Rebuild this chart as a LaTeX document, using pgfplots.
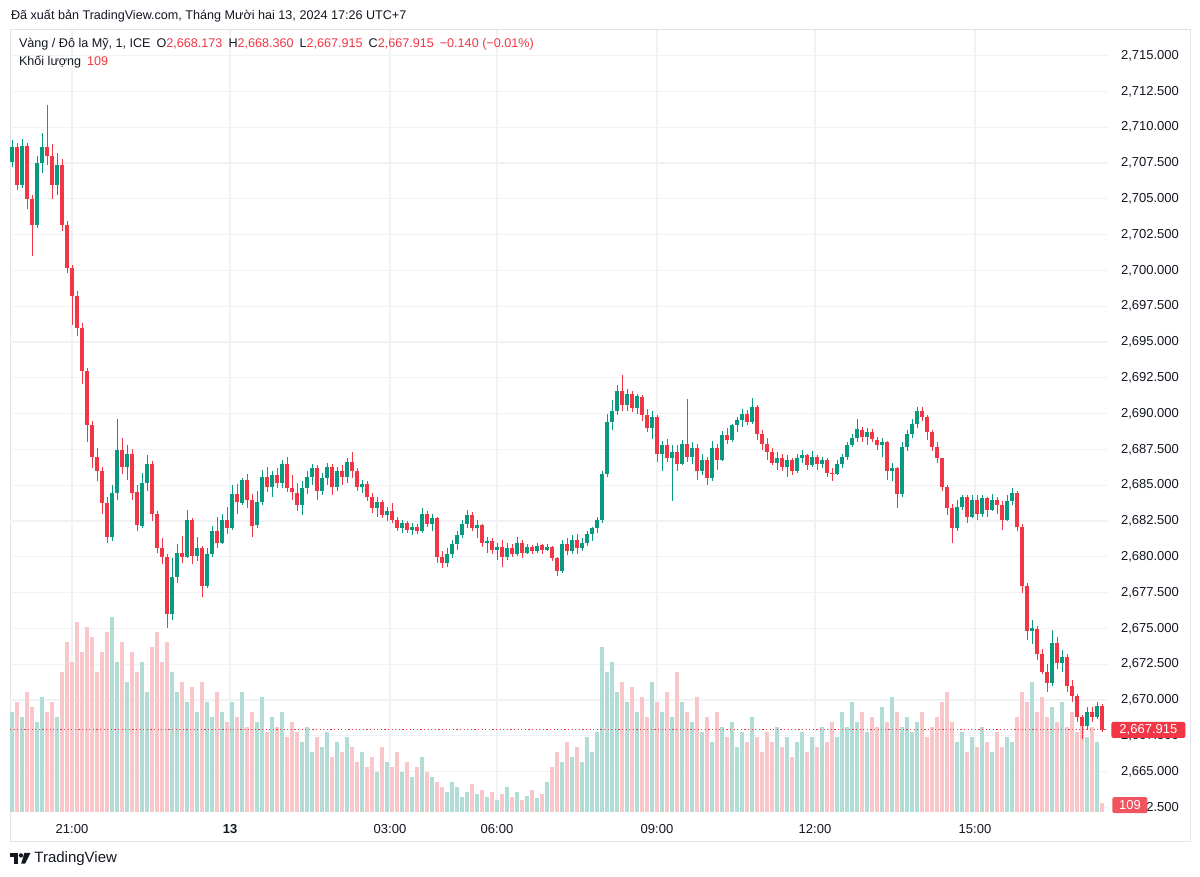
\documentclass[border=0pt]{standalone}
\usepackage{pgfplots}
\pgfplotsset{compat=1.18}
\usepackage{pgfplotstable}
\usepackage{fontspec}
\setmainfont{Liberation Sans}
\definecolor{tvgreen}{HTML}{089981}
\definecolor{tvred}{HTML}{F23645}
\definecolor{volgreen}{HTML}{B2DDD6}
\definecolor{volred}{HTML}{F9C7CA}
\definecolor{gridc}{HTML}{F0F2F6}
\definecolor{framec}{HTML}{E0E3EB}
\definecolor{txt}{HTML}{131722}
\definecolor{vollab}{HTML}{F0545F}
\pgfplotstableread{
x o h l c v
12 2707.6 2709.1 2707.2 2708.6 1200
17 2708.6 2708.9 2705.6 2706.0 1320
22 2706.0 2709.2 2705.8 2708.7 1140
27 2708.7 2708.9 2704.3 2705.0 1440
32 2705.0 2705.3 2701.0 2703.2 1260
37 2703.2 2708.0 2703.0 2707.5 1080
42 2707.5 2709.6 2706.8 2708.6 1380
47 2708.6 2711.6 2707.4 2708.0 1200
52 2708.0 2708.8 2705.0 2706.0 1320
57 2706.0 2708.2 2705.3 2707.4 1140
62 2707.4 2707.8 2702.8 2703.2 1680
67 2703.2 2703.5 2699.8 2700.2 2040
72 2700.2 2700.4 2696.2 2698.2 1800
77 2698.2 2698.6 2695.4 2696.0 2280
82 2696.0 2696.3 2692.1 2693.0 1920
87 2693.0 2693.2 2688.0 2689.2 2220
92 2689.2 2689.5 2686.2 2687.0 2100
97 2687.0 2687.6 2685.3 2686.0 1680
102 2686.0 2686.3 2683.0 2683.8 1920
107 2683.8 2684.2 2681.0 2681.4 2160
112 2681.4 2685.0 2681.1 2684.5 2340
117 2684.5 2689.6 2684.0 2687.5 1800
122 2687.5 2688.3 2685.8 2686.3 2040
127 2686.3 2687.8 2685.4 2687.2 1560
132 2687.2 2687.5 2684.0 2684.5 1920
137 2684.5 2685.0 2681.8 2682.2 1680
142 2682.2 2685.9 2682.0 2685.2 1800
147 2685.2 2687.1 2684.6 2686.5 1440
152 2686.5 2686.7 2682.5 2683.0 1980
157 2683.0 2683.2 2680.3 2680.6 2160
162 2680.6 2681.3 2679.5 2680.0 1800
167 2680.0 2680.2 2675.0 2676.0 2040
172 2676.0 2679.9 2675.6 2678.6 1680
177 2678.6 2680.9 2678.2 2680.3 1440
182 2680.3 2681.5 2679.6 2680.0 1560
187 2680.0 2683.3 2679.9 2682.6 1320
192 2682.6 2682.7 2679.5 2680.1 1500
197 2680.1 2681.4 2679.7 2680.6 1200
202 2680.6 2680.8 2677.2 2678.0 1560
207 2678.0 2680.6 2677.8 2680.2 1320
212 2680.2 2682.2 2680.0 2681.8 1140
217 2681.8 2682.8 2680.6 2681.0 1440
222 2681.0 2683.0 2680.9 2682.6 1200
227 2682.6 2683.5 2681.6 2682.0 1080
232 2682.0 2685.0 2681.9 2684.4 1320
237 2684.4 2685.1 2683.0 2683.8 1140
242 2683.8 2685.5 2683.6 2685.4 1440
247 2685.4 2685.8 2683.4 2684.0 1020
252 2684.0 2684.4 2681.4 2682.2 1200
257 2682.2 2684.6 2682.0 2683.8 1080
262 2683.8 2686.1 2683.6 2685.6 1380
267 2685.6 2686.3 2684.5 2684.9 960
272 2684.9 2686.0 2684.2 2685.7 1140
277 2685.7 2686.2 2684.8 2685.2 1020
282 2685.2 2686.8 2684.8 2686.5 1200
287 2686.5 2687.0 2684.5 2684.8 900
292 2684.8 2685.7 2684.0 2684.5 1080
297 2684.5 2685.2 2683.2 2683.6 960
302 2683.6 2685.3 2682.9 2684.8 840
307 2684.8 2686.0 2684.4 2685.6 1020
312 2685.6 2686.5 2685.0 2686.2 720
317 2686.2 2686.4 2684.0 2684.6 900
322 2684.6 2685.9 2684.3 2685.5 780
327 2685.5 2686.6 2685.0 2686.3 960
332 2686.3 2686.5 2684.3 2684.9 660
337 2684.9 2686.3 2684.6 2686.0 840
342 2686.0 2686.4 2685.0 2685.6 720
347 2685.6 2686.9 2685.2 2686.6 900
352 2686.6 2687.3 2685.5 2686.0 780
357 2686.0 2686.2 2684.6 2684.9 600
362 2684.9 2685.4 2684.5 2685.1 720
367 2685.1 2685.3 2683.9 2684.2 540
372 2684.2 2684.5 2683.1 2683.4 660
377 2683.4 2684.2 2682.8 2683.8 480
382 2683.8 2684.0 2682.7 2682.9 780
387 2682.9 2683.5 2682.5 2683.2 600
392 2683.2 2683.8 2682.4 2682.6 540
397 2682.6 2682.8 2681.8 2682.0 720
402 2682.0 2682.6 2681.7 2682.4 480
407 2682.4 2682.5 2681.7 2681.9 600
412 2681.9 2682.4 2681.5 2682.1 420
417 2682.1 2682.3 2681.6 2681.8 540
422 2681.8 2683.4 2681.7 2683.0 660
427 2683.0 2683.2 2682.1 2682.3 480
432 2682.3 2683.0 2681.8 2682.7 420
437 2682.7 2682.8 2679.6 2680.0 360
442 2680.0 2680.4 2679.2 2679.6 300
447 2679.6 2680.6 2679.3 2680.2 240
452 2680.2 2681.2 2679.9 2680.9 360
457 2680.9 2681.8 2680.5 2681.5 300
462 2681.5 2682.6 2681.3 2682.3 180
467 2682.3 2683.3 2682.0 2682.9 240
472 2682.9 2683.1 2681.8 2682.0 336
477 2682.0 2682.6 2681.3 2682.2 216
482 2682.2 2682.3 2680.7 2681.0 264
487 2681.0 2681.4 2680.3 2681.1 180
492 2681.1 2681.3 2680.2 2680.5 240
497 2680.5 2681.0 2679.8 2680.7 144
502 2680.7 2681.2 2679.3 2680.0 216
507 2680.0 2681.0 2679.8 2680.6 300
512 2680.6 2680.9 2680.0 2680.2 180
517 2680.2 2681.4 2680.1 2681.0 240
522 2681.0 2681.2 2679.9 2680.3 144
527 2680.3 2680.9 2680.2 2680.7 192
532 2680.7 2680.8 2680.2 2680.4 264
537 2680.4 2681.0 2680.3 2680.8 168
542 2680.8 2680.9 2680.2 2680.5 216
547 2680.5 2680.9 2680.4 2680.7 360
552 2680.7 2680.8 2679.7 2679.9 540
557 2679.9 2680.0 2678.7 2679.0 720
562 2679.0 2681.2 2678.9 2680.9 600
567 2680.9 2681.3 2680.1 2680.4 840
572 2680.4 2681.5 2680.2 2681.2 660
577 2681.2 2681.6 2680.2 2680.6 780
582 2680.6 2681.3 2680.4 2681.0 600
587 2681.0 2681.8 2680.8 2681.6 900
592 2681.6 2682.1 2681.1 2682.0 720
597 2682.0 2682.8 2681.7 2682.6 960
602 2682.6 2686.0 2682.4 2685.8 1980
607 2685.8 2690.0 2685.6 2689.4 1680
612 2689.4 2691.0 2688.9 2690.2 1800
617 2690.2 2692.0 2689.9 2691.6 1440
622 2691.6 2692.7 2690.2 2690.6 1560
627 2690.6 2691.7 2690.2 2691.4 1320
632 2691.4 2691.6 2690.1 2690.4 1500
637 2690.4 2691.4 2690.0 2691.2 1200
642 2691.2 2691.3 2689.5 2689.9 1380
647 2689.9 2690.3 2688.7 2689.0 1140
652 2689.0 2690.2 2688.2 2689.8 1560
657 2689.8 2689.9 2686.6 2687.2 1320
662 2687.2 2688.1 2686.0 2687.8 1200
667 2687.8 2688.2 2686.6 2686.9 1440
672 2686.9 2687.8 2683.9 2687.3 1140
677 2687.3 2687.8 2686.0 2686.5 1680
682 2686.5 2688.2 2686.4 2687.9 1320
687 2687.9 2691.0 2686.6 2687.0 1200
692 2687.0 2688.0 2686.5 2687.6 1080
697 2687.6 2687.9 2685.4 2686.0 1380
702 2686.0 2687.2 2685.7 2686.8 960
707 2686.8 2687.0 2685.0 2685.5 1140
712 2685.5 2688.1 2685.3 2687.6 840
717 2687.6 2687.9 2686.1 2686.8 1200
722 2686.8 2688.8 2686.7 2688.5 1020
727 2688.5 2689.0 2687.9 2688.2 900
732 2688.2 2689.3 2688.0 2689.2 1080
737 2689.2 2689.8 2688.7 2689.6 780
742 2689.6 2690.3 2689.1 2690.0 960
747 2690.0 2690.3 2689.2 2689.4 840
752 2689.4 2691.1 2689.3 2690.5 1140
757 2690.5 2690.6 2688.2 2688.6 900
762 2688.6 2688.9 2687.5 2687.9 720
767 2687.9 2688.3 2686.8 2687.3 960
772 2687.3 2687.6 2686.4 2686.6 840
777 2686.6 2687.3 2686.1 2686.9 1020
782 2686.9 2687.2 2686.0 2686.3 780
787 2686.3 2687.1 2685.6 2686.8 900
792 2686.8 2686.9 2685.7 2686.0 660
797 2686.0 2687.2 2685.9 2686.9 840
802 2686.9 2687.5 2686.6 2687.1 960
807 2687.1 2687.2 2686.1 2686.4 720
812 2686.4 2687.4 2686.3 2687.0 900
817 2687.0 2687.1 2686.1 2686.5 780
822 2686.5 2687.0 2686.2 2686.8 1020
827 2686.8 2686.9 2685.6 2685.9 840
832 2685.9 2686.2 2685.3 2685.8 1080
837 2685.8 2686.8 2685.7 2686.5 900
842 2686.5 2687.2 2686.2 2687.0 1200
847 2687.0 2688.0 2686.8 2687.8 1020
852 2687.8 2688.6 2687.7 2688.3 1320
857 2688.3 2689.6 2688.0 2688.9 1080
862 2688.9 2689.1 2688.0 2688.4 1200
867 2688.4 2689.0 2687.8 2688.7 960
872 2688.7 2688.9 2688.0 2688.2 1140
877 2688.2 2688.4 2687.5 2687.8 1020
882 2687.8 2688.3 2687.0 2688.0 1260
887 2688.0 2688.1 2685.4 2686.0 1080
892 2686.0 2686.6 2685.3 2686.2 1380
897 2686.2 2686.3 2683.4 2684.4 1200
902 2684.4 2688.0 2684.2 2687.7 1020
907 2687.7 2688.9 2687.4 2688.6 1140
912 2688.6 2689.6 2688.3 2689.3 960
917 2689.3 2690.5 2689.0 2690.2 1080
922 2690.2 2690.5 2689.5 2689.8 1200
927 2689.8 2689.9 2688.2 2688.7 900
932 2688.7 2688.9 2687.4 2687.7 1020
937 2687.7 2688.0 2686.6 2686.9 1140
942 2686.9 2686.9 2684.6 2684.9 1320
947 2684.9 2685.0 2682.9 2683.4 1440
952 2683.4 2683.7 2681.0 2682.0 1080
957 2682.0 2684.0 2681.8 2683.5 840
962 2683.5 2684.3 2683.3 2684.2 960
967 2684.2 2684.3 2682.4 2682.8 720
972 2682.8 2684.3 2682.7 2684.0 900
977 2684.0 2684.3 2682.6 2683.0 780
982 2683.0 2684.3 2682.8 2684.1 1020
987 2684.1 2684.2 2682.8 2683.3 840
992 2683.3 2684.4 2683.2 2684.0 720
997 2684.0 2684.2 2683.0 2683.6 960
1002 2683.6 2683.9 2681.9 2682.6 780
1007 2682.6 2684.3 2682.5 2683.9 900
1012 2683.9 2684.8 2683.6 2684.5 840
1017 2684.5 2684.6 2681.8 2682.1 1140
1022 2682.1 2682.3 2677.5 2678.0 1440
1027 2678.0 2678.2 2674.2 2674.8 1320
1032 2674.8 2675.6 2673.9 2675.0 1560
1037 2675.0 2675.2 2672.8 2673.2 1200
1042 2673.2 2673.6 2671.8 2672.0 1380
1047 2672.0 2672.5 2670.6 2671.2 1140
1052 2671.2 2674.9 2671.0 2674.0 1260
1057 2674.0 2674.4 2672.2 2672.6 1080
1062 2672.6 2673.5 2672.0 2673.0 1320
1067 2673.0 2673.2 2670.6 2671.0 1020
1072 2671.0 2671.4 2669.9 2670.3 1200
1077 2670.3 2670.4 2668.5 2668.8 960
1082 2668.8 2669.0 2667.3 2668.2 1140
1087 2668.2 2669.5 2668.0 2669.2 900
1092 2669.2 2669.5 2668.5 2668.8 1020
1097 2668.8 2669.9 2668.7 2669.6 840
1102 2669.6 2669.7 2667.8 2667.9 109
}\candles
% derived columns (2600 = off-scale placeholder for the other colour)
\pgfplotstablecreatecol[create col/expr={\thisrow{c}>=\thisrow{o} ? (\thisrow{h}+\thisrow{l})/2 : 2600}]{gw}\candles
\pgfplotstablecreatecol[create col/expr={\thisrow{c}<\thisrow{o} ? (\thisrow{h}+\thisrow{l})/2 : 2600}]{rw}\candles
\pgfplotstablecreatecol[create col/expr={(\thisrow{h}-\thisrow{l})/2}]{we}\candles
\pgfplotstablecreatecol[create col/expr={\thisrow{c}>=\thisrow{o} ? (\thisrow{o}+\thisrow{c})/2 : 2600}]{gb}\candles
\pgfplotstablecreatecol[create col/expr={\thisrow{c}<\thisrow{o} ? (\thisrow{o}+\thisrow{c})/2 : 2600}]{rb}\candles
\pgfplotstablecreatecol[create col/expr={max(abs(\thisrow{c}-\thisrow{o})/2,0.04)}]{be}\candles
\pgfplotstablecreatecol[create col/expr={\thisrow{c}>=\thisrow{o} ? 2662.186+\thisrow{v}/343.68 : 2600}]{gv}\candles
\pgfplotstablecreatecol[create col/expr={\thisrow{c}<\thisrow{o} ? 2662.186+\thisrow{v}/343.68 : 2600}]{rv}\candles
\pgfplotstablecreatecol[create col/expr={\thisrow{v}/343.68}]{ve}\candles
\pgfplotsset{
  ebar/.style 2 args={forget plot, draw=none, mark=none, mark size=0pt,
    error bars/y dir=both, error bars/y explicit, error bars/error mark=none,
    error bars/error bar style={line width=#1, draw=#2}},
}
\begin{document}
\begin{tikzpicture}
\path[use as bounding box, fill=white] (0,0) rectangle (600pt,438.5pt);
\draw[framec, line width=0.5pt] (5pt,17.5pt) rectangle (595pt,423.5pt);
\begin{axis}[
  at={(5pt,32.5pt)}, anchor=south west,
  scale only axis, width=549pt, height=391pt,
  xmin=10, xmax=1108, ymin=2662.186, ymax=2716.795,
  axis line style={draw=none},
  clip mode=individual,
  xtick={72,230,390,497,657,815,975},
  xticklabels={21:00,\textbf{13},03:00,06:00,09:00,12:00,15:00},
  ytick={2662.5,2665,2667.5,2670,2672.5,2675,2677.5,2680,2682.5,2685,2687.5,2690,2692.5,2695,2697.5,2700,2702.5,2705,2707.5,2710,2712.5,2715},
  yticklabel pos=right,
  grid=major, major grid style={gridc, line width=0.6pt},
  major tick length=0pt,
  tick label style={font=\fontsize{6.5}{8}\selectfont, text=txt},
  yticklabel style={anchor=west, xshift=3.0pt,
    /pgf/number format/fixed, /pgf/number format/fixed zerofill,
    /pgf/number format/precision=3, /pgf/number format/1000 sep={,},
    /pgf/number format/assume math mode=true},
  xticklabel style={anchor=center, yshift=-8.5pt},
]
% volume
\addplot[ebar={2.4pt}{volgreen}] table[x=x, y=gv, y error=ve]{\candles};
\addplot[ebar={2.4pt}{volred}] table[x=x, y=rv, y error=ve]{\candles};
% wicks
\addplot[ebar={0.5pt}{tvgreen}] table[x=x, y=gw, y error=we]{\candles};
\addplot[ebar={0.5pt}{tvred}] table[x=x, y=rw, y error=we]{\candles};
% bodies
\addplot[ebar={1.75pt}{tvgreen}] table[x=x, y=gb, y error=be]{\candles};
\addplot[ebar={1.75pt}{tvred}] table[x=x, y=rb, y error=be]{\candles};
% last price line
\addplot[forget plot, tvred, line width=0.5pt, dash pattern=on 0.6pt off 1.2pt] coordinates {(10,2667.915) (1108,2667.915)};
\coordinate (lastp) at (axis cs:1108,2667.915);
\coordinate (lastv) at (axis cs:1108,2662.67);
\end{axis}
\node[anchor=west, fill=tvred, text=white, rounded corners=1pt, inner sep=0pt,
  minimum width=37pt, minimum height=8pt, font=\fontsize{6.5}{8}\selectfont, xshift=1.5pt] at (lastp) {2,667.915};
\node[anchor=west, fill=vollab, text=white, rounded corners=1pt, inner sep=0pt,
  minimum width=17.5pt, minimum height=8pt, font=\fontsize{6.5}{8}\selectfont, xshift=2pt] at (lastv) {109};
% header texts
\node[anchor=west, inner sep=0pt, text=txt, font=\fontsize{6.3}{8}\selectfont] at (5.35pt,430.5pt)
  {Đã xuất bản TradingView.com, Tháng Mười hai 13, 2024 17:26 UTC+7};
\node[anchor=west, inner sep=0pt, text=txt, font=\fontsize{6.3}{8}\selectfont] at (9.3pt,416.3pt)
  {Vàng / Đô la Mỹ, 1, ICE\hspace{3pt}O\textcolor{tvred}{2,668.173}\hspace{3pt}H\textcolor{tvred}{2,668.360}\hspace{3pt}L\textcolor{tvred}{2,667.915}\hspace{3pt}C\textcolor{tvred}{2,667.915}\hspace{3pt}\textcolor{tvred}{−0.140 (−0.01\%)}};
\node[anchor=west, inner sep=0pt, text=txt, font=\fontsize{6.3}{8}\selectfont] at (9.3pt,407.3pt)
  {Khối lượng\hspace{3pt}\textcolor{tvred}{109}};
% logo
\fill[txt] (5pt,12pt) rectangle (9pt,10pt);
\fill[txt] (7pt,10pt) rectangle (9pt,6.7pt);
\fill[txt] (10.5pt,10.8pt) circle (1.1pt);
\fill[txt] (12.2pt,12pt) -- (15.2pt,12pt) -- (12.6pt,6.7pt) -- (10.6pt,6.7pt) -- cycle;
\node[anchor=west, inner sep=0pt, text=txt, font=\fontsize{7.5}{9}\selectfont] at (17pt,9.3pt) {TradingView};
\end{tikzpicture}
\end{document}
